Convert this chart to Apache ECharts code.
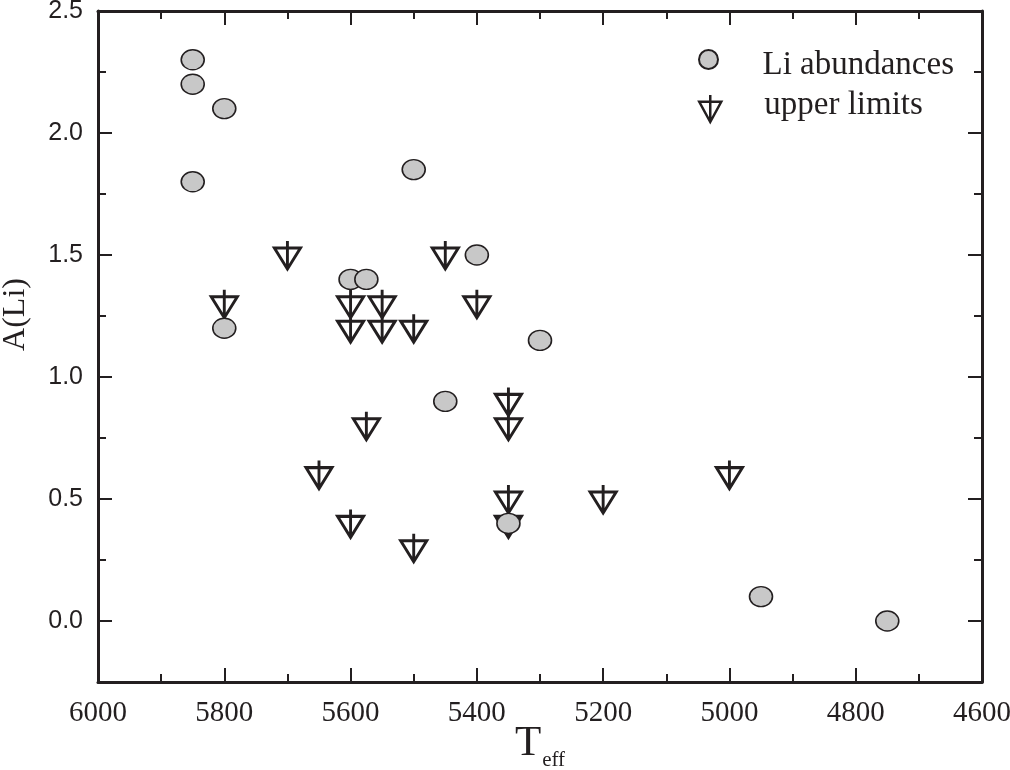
<!DOCTYPE html>
<html><head><meta charset="utf-8">
<script src="https://cdn.jsdelivr.net/npm/echarts@6/dist/echarts.min.js"></script>
<style>html,body{margin:0;padding:0;background:#fff}#c{width:1010px;height:770px}</style>
</head><body><div id="c"></div>
<script>
// Li abundances (detections)
const liTeff = [5850, 5850, 5800, 5850, 5800, 5500, 5600, 5575, 5400, 5300, 5450, 5350, 4950, 4750];
const liA    = [2.3, 2.2, 2.1, 1.8, 1.2, 1.85, 1.4, 1.4, 1.5, 1.15, 0.9, 0.4, 0.1, 0.0];
// Upper limits
const ulTeff = [5700, 5800, 5450, 5600, 5600, 5550, 5550, 5500, 5400, 5575, 5650, 5600, 5500, 5350, 5350, 5350, 5350, 5200, 5000];
const ulA    = [1.5, 1.3, 1.5, 1.3, 1.2, 1.3, 1.2, 1.2, 1.3, 0.8, 0.6, 0.4, 0.3, 0.9, 0.8, 0.5, 0.4, 0.5, 0.6];
// Axis ticks
const yMajorTicks = [0, 0.5, 1.0, 1.5, 2.0, 2.5];
const yMinorTicks = [0.25, 0.75, 1.25, 1.75, 2.25];
const seriesNames = ['Li abundances', 'upper limits'];

const INK = '#231f20';
const SERIF = 'Liberation Serif';
const SANS = 'Liberation Sans';
const ulSymbol = 'path://M13,0 L13,28 M0,7 L26,7 L13,28 Z';

function xAx(pos, showLabel) {
  return {
    type: 'value', position: pos, inverse: true, min: 4600, max: 6000, interval: 200,
    axisLine: {show: true, onZero: false, lineStyle: {color: INK, width: 3}},
    axisTick: {show: true, inside: true, length: 14, lineStyle: {color: INK, width: 2}},
    minorTick: {show: true, splitNumber: 2, length: 8, lineStyle: {color: INK, width: 2}},
    splitLine: {show: false}, minorSplitLine: {show: false},
    axisLabel: {show: showLabel, showMinLabel: true, showMaxLabel: true, margin: 17,
      formatter: v => String(v),
      fontFamily: SERIF, fontSize: 29, color: INK},
    name: showLabel ? '{t|T}{s|eff}' : '',
    nameLocation: 'middle', nameGap: 40, nameMoveOverlap: false,
    nameTextStyle: {color: INK, fontFamily: SERIF, rich: {
      t: {fontFamily: SERIF, fontSize: 43, color: INK, verticalAlign: 'top'},
      s: {fontFamily: SERIF, fontSize: 21, color: INK, verticalAlign: 'top', padding: [28, 0, 0, 1]}
    }}
  };
}
function yAx(pos, values, len, showLabel, showLine) {
  return {
    type: 'value', position: pos, min: -0.25, max: 2.5,
    axisLine: {show: showLine, onZero: false, lineStyle: {color: INK, width: 3}},
    axisTick: {show: true, inside: true, length: len, customValues: values, lineStyle: {color: INK, width: 2}},
    axisLabel: {show: showLabel, customValues: values, formatter: v => v.toFixed(1),
      margin: 15, fontFamily: SANS, fontSize: 25, color: INK},
    splitLine: {show: false},
    name: showLabel ? 'A(Li)' : '',
    nameLocation: 'middle', nameGap: 66,
    nameTextStyle: {fontFamily: SERIF, fontSize: 32, color: INK, padding: [0, 0, 0, 64]}
  };
}
const legendText = {fontFamily: SERIF, fontSize: 33, color: INK};

const chart = echarts.init(document.getElementById('c'), null, {renderer: 'canvas'});
chart.setOption({
  backgroundColor: '#fff',
  animation: false,
  textStyle: {fontFamily: SERIF},
  grid: {left: 98, right: 28, top: 11, bottom: 88, containLabel: false, outerBoundsMode: 'none'},
  xAxis: [xAx('bottom', true), xAx('top', false)],
  yAxis: [
    yAx('left', yMajorTicks, 14, true, true),
    yAx('left', yMinorTicks, 8, false, false),
    yAx('right', yMajorTicks, 14, false, true),
    yAx('right', yMinorTicks, 8, false, false)
  ],
  legend: [
    {data: [seriesNames[0]], orient: 'vertical', left: 698, top: 49, padding: 0,
     itemWidth: 22, itemHeight: 19, symbolKeepAspect: false, selectedMode: false,
     formatter: '{a|{name}}',
     textStyle: {...legendText, rich: {a: {...legendText, padding: [12, 0, 0, 38]}}}},
    {data: [seriesNames[1]], orient: 'vertical', left: 698, top: 89, padding: 0,
     itemWidth: 22, itemHeight: 27, symbolKeepAspect: false, selectedMode: false,
     itemStyle: {borderWidth: 2.5},
     formatter: '{a|{name}}',
     textStyle: {...legendText, rich: {a: {...legendText, padding: [0, 0, 6, 38]}}}}
  ],
  series: [
    {
      name: seriesNames[1], type: 'scatter', xAxisIndex: 0, yAxisIndex: 0, z: 2,
      symbol: ulSymbol, symbolSize: [26, 28],
      itemStyle: {color: 'rgba(0,0,0,0)', borderColor: INK, borderWidth: 3, opacity: 1},
      emphasis: {disabled: true}, silent: true,
      data: ulTeff.map((t, i) => [t, ulA[i]])
    },
    {
      name: seriesNames[0], type: 'scatter', xAxisIndex: 0, yAxisIndex: 0, z: 3,
      symbol: 'circle', symbolSize: [23, 20],
      itemStyle: {color: '#c8c8c8', borderColor: INK, borderWidth: 1.5, opacity: 1},
      emphasis: {disabled: true}, silent: true,
      data: liTeff.map((t, i) => [t, liA[i]])
    }
  ]
});
</script></body></html>
